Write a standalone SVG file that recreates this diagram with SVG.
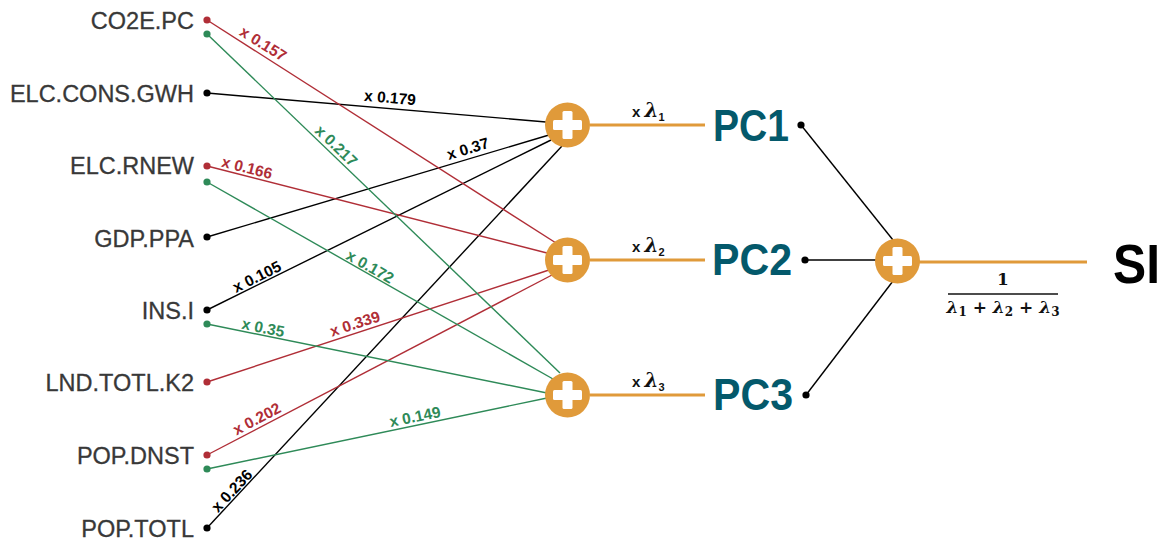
<svg xmlns="http://www.w3.org/2000/svg" width="1166" height="542" viewBox="0 0 1166 542">
<defs>
<style>
.in{font-family:"Liberation Sans",Arial,sans-serif;font-size:23.5px;fill:#383838;text-anchor:end;stroke:#383838;stroke-width:0.3}
.w{font-family:"Liberation Sans",Arial,sans-serif;font-size:15.5px;font-weight:bold;text-anchor:middle}
.r{stroke:#b02e37;stroke-width:1.4;fill:none}
.g{stroke:#2e8a58;stroke-width:1.4;fill:none}
.k{stroke:#000;stroke-width:1.4;fill:none}
.rf{fill:#b02e37}.gf{fill:#2e8a58}.kf{fill:#000}
.or{stroke:#e09a3a;stroke-width:3;fill:none}
.pc{font-family:"Liberation Sans",Arial,sans-serif;font-weight:bold;font-size:44px;fill:#04596b}
.lam{font-family:"Liberation Sans",Arial,sans-serif;font-weight:bold;font-size:15px;fill:#111}
.mth{font-family:"DejaVu Serif","Liberation Serif",serif;font-weight:bold;font-style:italic}
.frac{font-family:"DejaVu Serif","Liberation Serif",serif;font-weight:bold;font-size:17px;fill:#111;text-anchor:middle}
</style>
<g id="plus">
<circle r="22.5" fill="#e09a3a"/>
<rect x="-14.5" y="-5" width="29" height="10" rx="1.5" fill="#fff"/>
<rect x="-5" y="-14" width="10" height="28" rx="1.5" fill="#fff"/>
</g>
</defs>

<g id="connectors">
<line class="k" x1="207" y1="93" x2="546" y2="122"/>
<line class="k" x1="207" y1="237" x2="549" y2="135"/>
<line class="k" x1="207" y1="310" x2="551" y2="140"/>
<line class="k" x1="207" y1="528" x2="562" y2="146"/>
<line class="r" x1="207" y1="20" x2="556" y2="243"/>
<line class="r" x1="207" y1="166" x2="547" y2="253"/>
<line class="r" x1="207" y1="382" x2="549" y2="270"/>
<line class="r" x1="207" y1="455" x2="552" y2="275"/>
<line class="g" x1="207" y1="34" x2="560" y2="373"/>
<line class="g" x1="207" y1="182" x2="553" y2="379"/>
<line class="g" x1="207" y1="324" x2="547" y2="393"/>
<line class="g" x1="207" y1="469" x2="547" y2="398"/>
<line class="k" x1="801" y1="125" x2="893" y2="240"/>
<line class="k" x1="805" y1="260" x2="880" y2="260"/>
<line class="k" x1="806" y1="395" x2="893" y2="281"/>
<line class="or" x1="590" y1="125" x2="705" y2="125"/>
<line class="or" x1="590" y1="260" x2="705" y2="260"/>
<line class="or" x1="590" y1="395" x2="705" y2="395"/>
<line class="or" x1="918" y1="262" x2="1087" y2="262"/>
<text class="w" fill="#b02e37" transform="translate(263,44) rotate(32)" y="5">x 0.157</text>
<text class="w" fill="#2e8a58" transform="translate(336,146) rotate(44)" y="5">x 0.217</text>
<text class="w" fill="#000" transform="translate(390,98) rotate(4.9)" y="5">x 0.179</text>
<text class="w" fill="#b02e37" transform="translate(247,168) rotate(14.3)" y="5">x 0.166</text>
<text class="w" fill="#000" transform="translate(468,149) rotate(-16.7)" y="5">x 0.37</text>
<text class="w" fill="#2e8a58" transform="translate(370,267) rotate(29.6)" y="5">x 0.172</text>
<text class="w" fill="#000" transform="translate(257,277) rotate(-26.4)" y="5">x 0.105</text>
<text class="w" fill="#2e8a58" transform="translate(263,328) rotate(11.5)" y="5">x 0.35</text>
<text class="w" fill="#b02e37" transform="translate(355,324) rotate(-18)" y="5">x 0.339</text>
<text class="w" fill="#b02e37" transform="translate(257,419) rotate(-27.6)" y="5">x 0.202</text>
<text class="w" fill="#2e8a58" transform="translate(415,417) rotate(-11.5)" y="5">x 0.149</text>
<text class="w" fill="#000" transform="translate(232,491) rotate(-47)" y="5">x 0.236</text>
<text class="lam" x="632" y="117">x <tspan class="mth" font-size="20">λ</tspan><tspan font-size="11" dy="4">1</tspan></text>
<text class="lam" x="632" y="252">x <tspan class="mth" font-size="20">λ</tspan><tspan font-size="11" dy="4">2</tspan></text>
<text class="lam" x="632" y="387">x <tspan class="mth" font-size="20">λ</tspan><tspan font-size="11" dy="4">3</tspan></text>
<text class="frac" x="1003" y="285">1</text>
<line x1="948" y1="294" x2="1058" y2="294" stroke="#111" stroke-width="1.3"/>
<text class="frac" x="1003" y="313"><tspan class="mth">λ</tspan><tspan font-size="12" dy="3">1</tspan><tspan dy="-3"> + </tspan><tspan class="mth">λ</tspan><tspan font-size="12" dy="3">2</tspan><tspan dy="-3"> + </tspan><tspan class="mth">λ</tspan><tspan font-size="12" dy="3">3</tspan></text>
</g>

<g id="in-co2e"><text class="in" x="194" y="28.5">CO2E.PC</text><circle class="rf" cx="207" cy="20" r="3.6"/><circle class="gf" cx="207" cy="34" r="3.6"/></g>
<g id="in-elccons"><text class="in" x="194" y="101.5">ELC.CONS.GWH</text><circle class="kf" cx="207" cy="93" r="3.6"/></g>
<g id="in-elcrnew"><text class="in" x="194" y="174">ELC.RNEW</text><circle class="rf" cx="207" cy="166" r="3.6"/><circle class="gf" cx="207" cy="182" r="3.6"/></g>
<g id="in-gdp"><text class="in" x="194" y="246.5">GDP.PPA</text><circle class="kf" cx="207" cy="237" r="3.6"/></g>
<g id="in-ins"><text class="in" x="194" y="319">INS.I</text><circle class="kf" cx="207" cy="310" r="3.6"/><circle class="gf" cx="207" cy="324" r="3.6"/></g>
<g id="in-lnd"><text class="in" x="194" y="390.5">LND.TOTL.K2</text><circle class="rf" cx="207" cy="382" r="3.6"/></g>
<g id="in-popdnst"><text class="in" x="194" y="464">POP.DNST</text><circle class="rf" cx="207" cy="455" r="3.6"/><circle class="gf" cx="207" cy="469" r="3.6"/></g>
<g id="in-poptotl"><text class="in" x="194" y="536.5">POP.TOTL</text><circle class="kf" cx="207" cy="528" r="3.6"/></g>

<g id="sum1"><use href="#plus" x="567.5" y="125"/></g>
<g id="sum2"><use href="#plus" x="567.5" y="260"/></g>
<g id="sum3"><use href="#plus" x="567.5" y="395"/></g>

<g id="pc1"><text class="pc" x="713" y="141" textLength="76" lengthAdjust="spacingAndGlyphs">PC1</text><circle class="kf" cx="801" cy="125" r="3.6"/></g>
<g id="pc2"><text class="pc" x="712" y="275" textLength="80" lengthAdjust="spacingAndGlyphs">PC2</text><circle class="kf" cx="805" cy="260" r="3.6"/></g>
<g id="pc3"><text class="pc" x="713" y="410" textLength="80" lengthAdjust="spacingAndGlyphs">PC3</text><circle class="kf" cx="806" cy="395" r="3.6"/></g>

<g id="sumSI"><use href="#plus" x="897.5" y="261"/></g>
<g id="si"><text x="1113" y="283" font-family="Liberation Sans,Arial,sans-serif" font-weight="bold" font-size="55" fill="#000" textLength="47" lengthAdjust="spacingAndGlyphs">SI</text></g>
</svg>
